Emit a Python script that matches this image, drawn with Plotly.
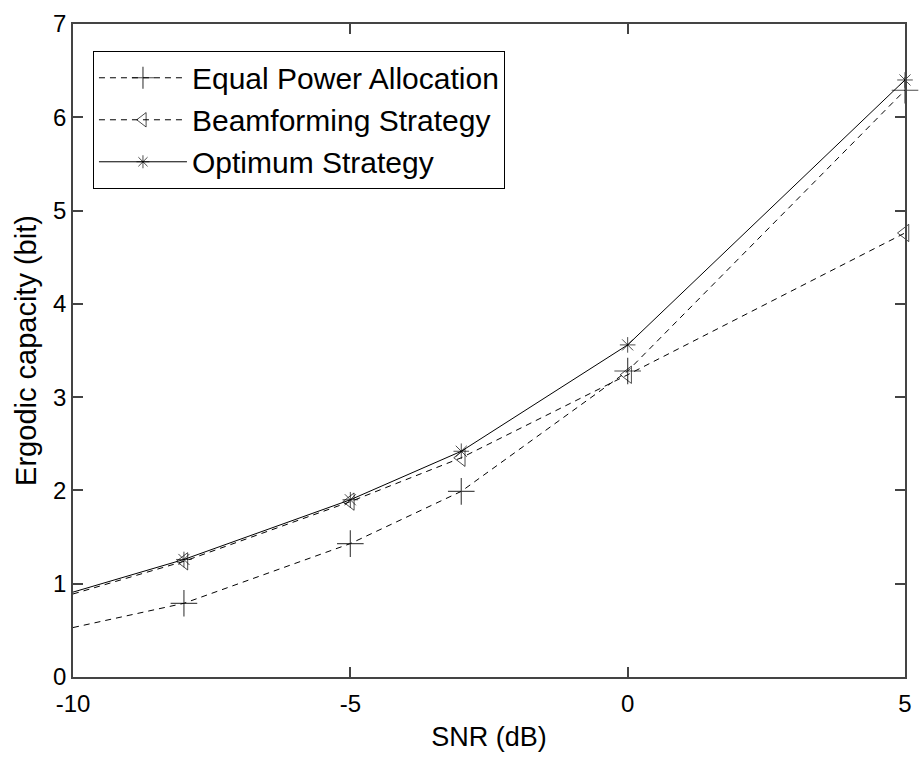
import plotly.graph_objects as go

snr = [-10, -8, -5, -3, 0, 5]
equal_power = [0.53, 0.79, 1.43, 1.99, 3.28, 6.29]
beamforming = [0.89, 1.24, 1.88, 2.35, 3.24, 4.76]
optimum = [0.91, 1.26, 1.90, 2.42, 3.56, 6.40]

x_ticks = [-10, -5, 0, 5]
y_ticks = [0, 1, 2, 3, 4, 5, 6, 7]

font_family = "Liberation Sans, Arial, sans-serif"


def sizes(n, s):
    # the first point (at the left axis edge) carries no visible marker
    return [0] + [s] * (n - 1)


fig = go.Figure()
fig.add_trace(go.Scatter(
    x=snr, y=equal_power, name="Equal Power Allocation", mode="lines+markers",
    line=dict(color="black", width=1, dash="6px,5px"),
    marker=dict(symbol="cross-thin", size=sizes(len(snr), 19), color="black",
                line=dict(color="black", width=1.2)),
    cliponaxis=False,
))
fig.add_trace(go.Scatter(
    x=snr, y=beamforming, name="Beamforming Strategy", mode="lines+markers",
    line=dict(color="black", width=1, dash="6px,5px"),
    marker=dict(symbol="triangle-left-open", size=sizes(len(snr), 15), color="black",
                line=dict(color="black", width=1)),
    cliponaxis=False,
))
fig.add_trace(go.Scatter(
    x=snr, y=optimum, name="Optimum Strategy", mode="lines+markers",
    line=dict(color="black", width=1),
    marker=dict(symbol="asterisk-open", size=sizes(len(snr), 13), color="black",
                line=dict(color="black", width=1)),
    cliponaxis=False,
))

axis_common = dict(
    showgrid=False, zeroline=False, showline=True, linecolor="#444444", linewidth=1.5,
    mirror="ticks", ticks="inside", ticklen=10, tickcolor="#444444", tickwidth=1.5,
    tickfont=dict(family=font_family, size=24, color="black"),
)

fig.update_xaxes(
    range=[-10, 5], tickvals=x_ticks, ticktext=[str(v) for v in x_ticks],
    ticklabelstandoff=4,
    title=dict(text="SNR (dB)", font=dict(family=font_family, size=27, color="black"), standoff=12),
    **axis_common,
)
fig.update_yaxes(
    range=[0, 7], tickvals=y_ticks, ticktext=[str(v) for v in y_ticks],
    title=dict(text="Ergodic capacity (bit)", font=dict(family=font_family, size=29, color="black"), standoff=8),
    **axis_common,
)

fig.update_layout(
    width=922, height=757,
    margin=dict(l=73, r=10, t=20, b=78),
    paper_bgcolor="white", plot_bgcolor="white",
    showlegend=True,
    legend=dict(
        x=0.024, y=0.959, xanchor="left", yanchor="top",
        bgcolor="white", bordercolor="black", borderwidth=1,
        font=dict(family=font_family, size=30, color="black"),
        itemwidth=88, tracegroupgap=0,
    ),
)

fig.write_html("out.html")
